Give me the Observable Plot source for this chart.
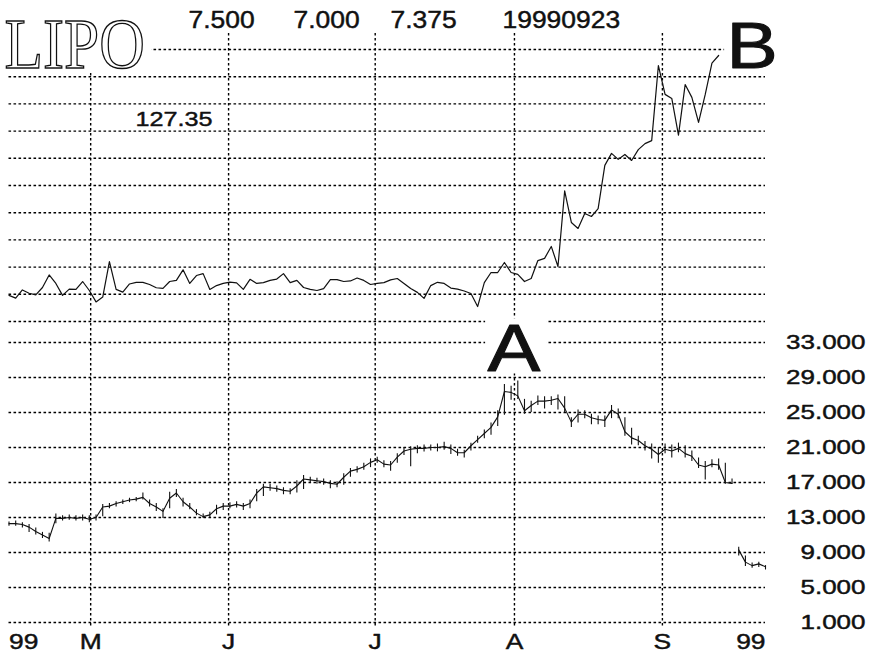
<!DOCTYPE html>
<html><head><meta charset="utf-8">
<script src="https://cdn.jsdelivr.net/npm/d3@7"></script>
<script src="https://cdn.jsdelivr.net/npm/@observablehq/plot@0.6"></script>
<style>
html,body{margin:0;padding:0;background:#fff;}
#chart{position:relative;width:875px;height:654px;overflow:hidden;background:#fff;}
#chart svg{position:absolute;left:0;top:0;}
</style></head><body><div id="chart"></div>
<script>
// ---------- data ----------
const symbol = "LIPO";
const headerValues = ["7.500", "7.000", "7.375", "19990923"]; // high, low, close, date
const lastStrengthLabel = "127.35";
const peakLabel = "A";
const strengthLabel = "B";
const yearLabel = "99";
const monthLabels = ["M", "J", "J", "A", "S"];
const monthTicks = [12.2, 32.8, 54.7, 75.5, 97.6];        // trading-day index of month starts
const priceTicks = [1, 5, 9, 13, 17, 21, 25, 29, 33];
const strengthTicks = [0, 1, 2, 3, 4, 5, 6, 7, 8, 9, 10];
const splitIndex = 109;

const close = [12.3,12.3,12.2,11.9,11.4,11.0,10.6,12.9,12.9,13.0,
  12.9,13.0,12.8,13.0,14.2,14.3,14.6,14.8,15.0,15.1,
  15.3,14.6,14.2,13.7,15.2,15.8,14.8,14.2,13.5,13.1,
  13.3,14.0,14.3,14.3,14.5,14.3,14.6,15.8,16.5,16.4,
  16.3,16.1,16.0,16.6,17.4,17.3,17.2,17.1,16.9,16.8,
  17.6,18.3,18.5,18.8,19.3,19.6,19.1,19.0,19.9,20.6,
  20.8,20.9,20.9,21.0,21.0,21.1,20.9,20.4,20.4,21.2,
  21.9,22.6,23.3,24.5,27.4,27.3,26.9,25.2,25.8,26.3,
  26.3,26.4,26.6,25.5,23.9,24.8,24.8,24.4,24.2,24.1,
  25.3,24.8,22.8,22.1,21.8,21.2,20.8,20.2,20.8,20.6,
  20.9,20.3,20.0,19.0,18.8,19.1,19.0,17.0,16.9,
  9.3,7.9,7.5,7.7,7.375];
const high = [12.5,12.6,12.4,12.2,11.8,11.3,11.2,13.4,13.2,13.3,
  13.2,13.3,13.2,13.3,14.5,14.6,14.8,15.0,15.2,15.3,
  15.8,15.0,14.6,14.0,15.9,16.2,15.2,14.6,13.9,13.4,
  13.6,14.4,14.6,14.7,14.8,14.6,15.0,16.2,16.8,16.8,
  16.6,16.4,16.3,17.2,17.8,17.6,17.5,17.4,17.2,17.1,
  18.0,18.6,18.8,19.2,19.7,19.9,19.5,19.4,20.3,21.0,
  21.1,21.2,21.3,21.3,21.4,21.6,21.3,20.8,20.7,21.5,
  22.3,23.0,23.8,25.2,28.2,28.0,28.6,26.5,26.3,26.9,
  26.8,26.8,27.0,26.8,24.4,25.3,25.2,24.8,24.6,24.6,
  25.8,25.4,24.4,23.2,22.3,21.7,21.4,21.0,21.4,21.3,
  21.5,21.2,20.6,19.8,19.4,19.6,19.7,19.2,17.4,
  9.6,8.6,7.8,7.9,7.5];
const low = [12.0,12.0,11.8,11.3,11.0,10.6,10.2,12.3,12.6,12.7,
  12.6,12.6,12.4,12.6,13.1,14.0,14.2,14.5,14.7,14.8,
  15.0,14.2,13.7,12.9,14.0,15.3,14.2,13.9,13.2,12.9,
  13.0,13.3,13.8,14.0,14.1,13.8,14.0,14.8,15.4,16.0,
  15.9,15.6,15.6,15.8,16.2,16.9,16.8,16.7,16.3,16.4,
  16.7,17.6,18.1,18.4,18.7,19.2,18.7,18.3,19.2,20.1,
  18.8,20.3,20.5,20.6,20.5,20.7,20.2,20.0,19.8,20.6,
  21.5,22.0,22.4,23.4,24.7,26.4,26.5,24.8,25.0,25.8,
  25.4,25.8,25.3,25.0,23.3,23.8,24.3,23.6,23.6,23.3,
  24.3,24.3,22.3,21.3,21.2,20.6,19.7,19.2,20.3,19.8,
  20.4,19.8,19.4,18.6,17.3,18.7,18.4,16.8,16.8,
  8.6,7.4,7.2,7.3,7.0];
// relative-strength line, in grid units of the upper panel
const strength = [0.96,0.86,1.16,1.04,0.98,1.25,1.71,1.40,0.96,1.19,
  1.18,1.47,1.14,0.72,0.90,2.20,1.18,1.08,1.38,1.44,
  1.44,1.36,1.24,1.22,1.47,1.51,1.90,1.40,1.69,1.76,
  1.18,1.32,1.40,1.45,1.42,1.18,1.55,1.40,1.43,1.51,
  1.56,1.76,1.43,1.51,1.25,1.18,1.14,1.21,1.54,1.54,
  1.47,1.49,1.60,1.51,1.36,1.40,1.43,1.53,1.58,1.40,
  1.21,1.07,0.85,1.32,1.44,1.40,1.23,1.19,1.12,1.03,
  0.55,1.43,1.80,1.80,2.17,1.80,1.73,1.47,1.58,2.24,
  2.32,2.76,2.02,4.80,3.64,3.42,3.97,3.86,4.15,5.74,
  6.18,5.96,6.14,5.92,6.32,6.54,6.65,9.41,8.35,8.20,
  6.85,8.71,8.24,7.32,8.35,9.50,9.78];

// ---------- tables ----------
const days = d3.range(close.length);
const prices = days.map(d => ({d, close: close[d], high: high[d], low: low[d],
  seg: d < splitIndex ? "before split" : "after split"}));
const strengthData = strength.map((v, d) => ({d, v}));
const firstDay = d3.min(days), lastDay = d3.max(days);

// ---------- layout ----------
const W = 875, H = 654;
const xScale = {domain: [firstDay, lastDay], range: [8.5, 765], axis: null};
const sans = "Liberation Sans, Arial, Helvetica, sans-serif";
const dotted = {stroke: "#000", strokeWidth: 1.4, strokeDasharray: "2.6,2.4"};
const ink = {fill: "#111", stroke: "#111", strokeWidth: 0.45, paintOrder: "normal"};

const lower = Plot.plot({
  width: W, height: H, marginTop: 33, marginBottom: 26, marginLeft: 0, marginRight: 0,
  x: xScale,
  y: {domain: [1, 33], range: [622, 342], axis: null},
  style: {background: "white", overflow: "visible"},
  marks: [
    Plot.ruleY(priceTicks, {y: d => d, x1: firstDay, x2: lastDay, ...dotted}),
    Plot.ruleX(monthTicks, {x: d => d, ...dotted}),
    Plot.ruleX(prices, {x: "d", y1: "low", y2: "high", stroke: "#111", strokeWidth: 1.1}),
    Plot.line(prices, {x: "d", y: "close", z: "seg", stroke: "#111", strokeWidth: 1.1}),
    Plot.text(priceTicks, {y: d => d, text: d => d.toFixed(3), frameAnchor: "right",
      textAnchor: "end", lineAnchor: "middle", dx: -10, fontSize: 20, fontFamily: sans, ...ink}),
    Plot.text(monthLabels, {x: (d, i) => monthTicks[i], text: d => d, frameAnchor: "bottom",
      lineAnchor: "top", dy: 5, fontSize: 22, fontFamily: sans, ...ink}),
    Plot.text([yearLabel], {x: [firstDay], text: d => d, frameAnchor: "bottom", textAnchor: "start",
      lineAnchor: "top", dy: 5, fontSize: 22, fontFamily: sans, ...ink}),
    Plot.text([yearLabel], {x: [lastDay], text: d => d, frameAnchor: "bottom", textAnchor: "end",
      lineAnchor: "top", dy: 5, fontSize: 22, fontFamily: sans, ...ink})
  ]
});

const headerLeft = [188, 293, 390, 502];
const upper = Plot.plot({
  width: W, height: H, margin: 0,
  x: xScale,
  y: {domain: [0, 10], range: [321, 49], axis: null},
  style: {background: "none", overflow: "visible"},
  marks: [
    Plot.ruleY(strengthTicks, {y: d => d, x1: firstDay, x2: lastDay, ...dotted}),
    Plot.line(strengthData, {x: "d", y: "v", stroke: "#111", strokeWidth: 1.2}),
    ...headerValues.map((t, i) => Plot.text([t], {text: d => d, frameAnchor: "top-left",
      dx: headerLeft[i], dy: 27, lineAnchor: "bottom", textAnchor: "start",
      fontSize: 23, fontFamily: sans, ...ink})),
    Plot.text([lastStrengthLabel], {text: d => d, frameAnchor: "top-left", dx: 135, dy: 125,
      lineAnchor: "bottom", textAnchor: "start", fontSize: 21, fontFamily: sans, ...ink}),
    Plot.text([symbol], {text: d => d, frameAnchor: "top-left", dx: 4, dy: 67, lineAnchor: "bottom",
      textAnchor: "start", fontSize: 71, fontFamily: "Liberation Serif, Times New Roman, serif",
      fill: "white", stroke: "#111", strokeWidth: 1.4, paintOrder: "normal", strokeLinejoin: "miter"}),
    Plot.text([strengthLabel], {text: d => d, frameAnchor: "top-left", dx: 726, dy: 67, lineAnchor: "bottom",
      textAnchor: "start", fontSize: 64, fontFamily: sans, fill: "#111", stroke: "#111", strokeWidth: 1, paintOrder: "normal"}),
    Plot.text([peakLabel], {text: d => d, frameAnchor: "top-left", dx: 487, dy: 370, lineAnchor: "bottom",
      textAnchor: "start", fontSize: 66, fontFamily: sans, fill: "#111", stroke: "#111", strokeWidth: 1, paintOrder: "normal"})
  ]
});

const chart = document.getElementById("chart");
chart.appendChild(lower);
chart.appendChild(upper);

// horizontal stretching of the (wide) typeface and white knock-out boxes behind big letters
function finish(svg, rule) {
  svg.querySelectorAll("text").forEach(t => {
    const r = rule(t.textContent);
    if (!r) return;
    const tr = t.getAttribute("transform");
    if (r.sx && r.sx !== 1) {
      if (tr && tr.includes("translate")) t.setAttribute("transform", `${tr} scale(${r.sx},1)`);
      else {
        const x = parseFloat(t.getAttribute("x")) || 0;
        t.setAttribute("transform", `${tr || ""} translate(${x},0) scale(${r.sx},1) translate(${-x},0)`);
      }
    }
    if (r.mask) {
      const bb = t.getBBox();
      const fs = parseFloat(getComputedStyle(t).fontSize);
      const baseline = bb.y + r.ascent * fs;
      const top = baseline - r.cap * fs;
      const rect = document.createElementNS("http://www.w3.org/2000/svg", "rect");
      rect.setAttribute("x", bb.x - r.mask[0]);
      rect.setAttribute("width", bb.width + r.mask[0] + r.mask[1]);
      rect.setAttribute("y", top - r.mask[2]);
      rect.setAttribute("height", r.cap * fs + r.mask[2] + r.mask[3]);
      rect.setAttribute("fill", "white");
      rect.setAttribute("stroke", "none");
      const trr = t.getAttribute("transform");
      if (trr) rect.setAttribute("transform", trr);
      t.parentNode.insertBefore(rect, t);
    }
  });
}
finish(lower, s => s.endsWith(".000") ? {sx: 1.3} : {sx: 1.2});
finish(upper, s => {
  if (s === symbol) return {sx: 0.89, mask: [4, 7, 30, 5], ascent: 0.891, cap: 0.662};
  if (s === strengthLabel || s === peakLabel) return {sx: 1.2, mask: [2, 5, 5, 3], ascent: 0.905, cap: 0.716};
  if (s === lastStrengthLabel) return {sx: 1.2};
  return {sx: 1.15};
});
</script></body></html>
